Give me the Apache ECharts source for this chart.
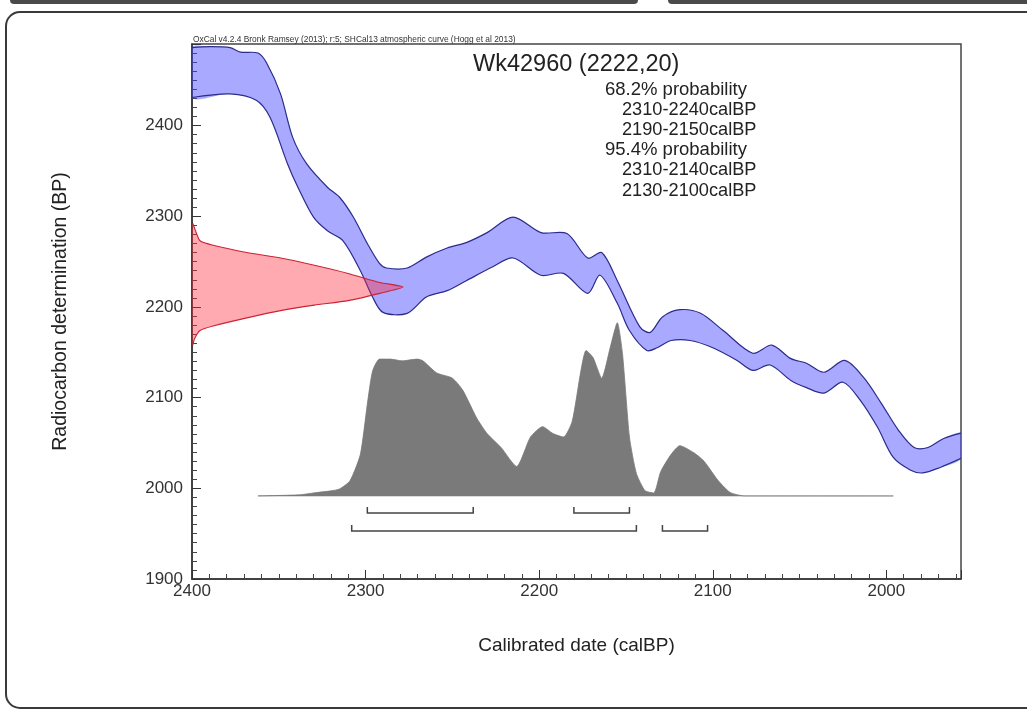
<!DOCTYPE html>
<html><head><meta charset="utf-8">
<script src="https://cdn.jsdelivr.net/npm/echarts@6/dist/echarts.min.js"></script>
<style>html,body{margin:0;padding:0;background:#fff}#c{width:1027px;height:712px}</style>
</head><body><div id="c"></div>
<script>
// ---- data ----
// calibration curve (SHCal13) band edges: [calBP, BP]
const curveUpper = [[2400,2486],[2390,2487],[2378,2486],[2372,2481],[2362,2480],[2357,2469],[2349,2435],[2342,2387],[2334,2358],[2322,2332],[2315,2321],[2307,2299],[2299,2270],[2292,2248],[2288,2243],[2276,2243],[2265,2255],[2253,2265],[2242,2271],[2230,2282],[2215,2299],[2199,2282],[2184,2281],[2172,2254],[2164,2260],[2155,2229],[2142,2178],[2136,2172],[2129,2189],[2119,2197],[2107,2193],[2094,2174],[2077,2149],[2066,2158],[2055,2143],[2046,2138],[2036,2128],[2024,2141],[2013,2122],[2003,2094],[1993,2064],[1984,2045],[1976,2045],[1967,2055],[1957,2061]];
const curveLower = [[2400,2431],[2378,2435],[2363,2428],[2355,2409],[2345,2358],[2339,2332],[2330,2299],[2322,2284],[2313,2273],[2303,2240],[2296,2211],[2290,2194],[2276,2193],[2265,2211],[2253,2218],[2242,2229],[2227,2244],[2215,2254],[2199,2235],[2186,2237],[2172,2215],[2165,2235],[2155,2204],[2148,2174],[2138,2152],[2132,2155],[2124,2163],[2113,2163],[2100,2155],[2086,2141],[2077,2130],[2067,2136],[2055,2119],[2046,2111],[2036,2105],[2025,2117],[2015,2097],[2005,2067],[1996,2034],[1986,2020],[1979,2017],[1969,2023],[1957,2033]];
// radiocarbon likelihood (relative, peak = 100) against BP
const likelihoodBP   = [2292,2285,2273,2268,2260,2254,2246,2237,2227,2222,2215,2207,2202,2196,2188,2179,2174,2165,2158];
const likelihoodProb = [0.4,1.5,3.8,10,26,42,58,74,89,100,89,74,58,42,26,10,3.8,1.2,0.4];
// calibrated probability (relative, peak = 100) against calBP
const posteriorCal  = [2362,2338,2330,2320,2315,2309,2303,2299,2296,2292,2286,2279,2270,2267,2259,2250,2244,2236,2230,2222,2213,2205,2198,2192,2186,2181,2176,2173,2169,2164,2159,2155,2152,2148,2144,2139,2134,2130,2124,2119,2111,2105,2097,2090,2082,1996];
const posteriorProb = [0,0.6,1.7,2.9,4,8.7,24,53,72,79,79,78,79,78,71,68,61,45,36,28,17,34,40,36,34,43,72,84,80,68,86,100,82,34,13,3,1.7,14,24,29,25,20,9,2,0,0];
// highest probability ranges (calBP)
const ranges68 = [[2299,2238],[2180,2148]];
const ranges95 = [[2308,2144],[2129,2103]];
// texts
const headerText = 'OxCal v4.2.4 Bronk Ramsey (2013); r:5; SHCal13 atmospheric curve (Hogg et al 2013)';
const sampleTitle = 'Wk42960 (2222,20)';
const probHeads = ['68.2% probability','95.4% probability'];
const probRanges68 = ['2310-2240calBP','2190-2150calBP'];
const probRanges95 = ['2310-2140calBP','2130-2100calBP'];
const xTitle = 'Calibrated date (calBP)';
const yTitle = 'Radiocarbon determination (BP)';

// ---- chart ----
const FONT = 'Liberation Sans, Arial, sans-serif';
const chart = echarts.init(document.getElementById('c'), null, {renderer:'canvas'});
const hundreds = v => (Math.round(v) % 100 === 0 ? String(v) : '');

const textEl = (x, y, t, size) => ({type:'text', x, y, style:{text:t, fontFamily:FONT, fontSize:size, fill:'#222', verticalAlign:'middle', align:'left'}, z:10});

const graphics = [
  {type:'rect', shape:{x:6, y:12, width:1040, height:696, r:14}, style:{fill:'none', stroke:'#3a3a3a', lineWidth:2}, z:-1},
  {type:'rect', shape:{x:10, y:-6, width:628, height:10, r:4}, style:{fill:'#4a4a4a'}, z:-1},
  {type:'rect', shape:{x:668, y:-6, width:380, height:10, r:4}, style:{fill:'#4a4a4a'}, z:-1},
  {type:'text', x:193, y:40, style:{text:headerText, fontFamily:FONT, fontSize:8.4, fill:'#333', verticalAlign:'middle'}, z:10},
  textEl(473, 65, sampleTitle, 23.5),
  textEl(605, 90, probHeads[0], 18.5),
  textEl(622, 110, probRanges68[0], 18.2),
  textEl(622, 130, probRanges68[1], 18.2),
  textEl(605, 150, probHeads[1], 18.5),
  textEl(622, 170, probRanges95[0], 18.2),
  textEl(622, 190.5, probRanges95[1], 18.2)
];

const SM = 0.3;
const option = {
  backgroundColor:'#fff',
  animation:false,
  textStyle:{fontFamily:FONT},
  grid:{left:192, right:66, top:44, bottom:133, show:true, borderColor:'#444', borderWidth:1.5, containLabel:false, outerBoundsMode:'none'},
  xAxis:[
    {type:'value', min:1957, max:2400, inverse:true, minInterval:100, maxInterval:100, position:'bottom',
     name:xTitle, nameLocation:'middle', nameGap:57, nameTextStyle:{fontSize:19, color:'#222', fontFamily:FONT},
     axisLine:{show:true, onZero:false, lineStyle:{color:'#333', width:1.5}},
     axisTick:{show:true, inside:true, length:9, lineStyle:{color:'#333', width:1}},
     minorTick:{show:true, splitNumber:10, length:5, lineStyle:{color:'#444', width:1}},
     splitLine:{show:false}, minorSplitLine:{show:false},
     axisLabel:{formatter:hundreds, fontSize:17, color:'#333', margin:4, fontFamily:FONT, showMinLabel:true, showMaxLabel:true}},
    {type:'value', min:0, max:364.5, show:false, position:'top'}
  ],
  yAxis:[
    {type:'value', min:1900, max:2490, minInterval:100, maxInterval:100,
     name:yTitle, nameLocation:'middle', nameGap:121, nameTextStyle:{fontSize:19.5, color:'#222', fontFamily:FONT},
     axisLine:{show:true, onZero:false, lineStyle:{color:'#333', width:1.5}},
     axisTick:{show:true, inside:true, length:9, lineStyle:{color:'#333', width:1}},
     minorTick:{show:true, splitNumber:10, length:5, lineStyle:{color:'#444', width:1}},
     splitLine:{show:false}, minorSplitLine:{show:false},
     axisLabel:{formatter:hundreds, fontSize:17, color:'#333', margin:9, fontFamily:FONT}},
    {type:'value', min:-48, max:261, show:false}
  ],
  graphic:graphics,
  series:[
    { // calibration curve band
      type:'custom', name:'curve', xAxisIndex:0, yAxisIndex:0, clip:true, z:2, silent:true,
      data:[[2200,2200]],
      renderItem:(params, api) => {
        const up = curveUpper.map(p => api.coord(p));
        const lo = curveLower.map(p => api.coord(p));
        return {type:'group', children:[
          {type:'polygon', shape:{points:up.concat(lo.slice().reverse()), smooth:SM}, style:{fill:'rgba(64,64,255,0.45)', stroke:null}},
          {type:'polyline', shape:{points:up, smooth:SM}, style:{fill:null, stroke:'#2b2b8c', lineWidth:1.2}},
          {type:'polyline', shape:{points:lo, smooth:SM}, style:{fill:null, stroke:'#2b2b8c', lineWidth:1.2}}
        ]};
      }
    },
    { // posterior baseline
      type:'line', name:'baseline', xAxisIndex:0, yAxisIndex:1, z:3, silent:true, symbol:'none',
      data:[[posteriorCal[0],0],[posteriorCal[posteriorCal.length-1],0]],
      lineStyle:{color:'#cfcfcf', width:1.5}
    },
    { // calibrated distribution
      type:'line', name:'posterior', xAxisIndex:0, yAxisIndex:1, z:4, silent:true, symbol:'none', smooth:0.2,
      data:posteriorCal.map((c,i)=>[c, posteriorProb[i]]),
      lineStyle:{width:0.8, color:'#777'},
      areaStyle:{color:'#7a7a7a', opacity:1, origin:0}
    },
    { // radiocarbon likelihood
      type:'custom', name:'likelihood', xAxisIndex:1, yAxisIndex:0, clip:true, z:5, silent:true,
      data:[[50,2222]],
      renderItem:(params, api) => {
        const pts = likelihoodBP.map((b,i) => api.coord([likelihoodProb[i], b]));
        const poly = [api.coord([0, likelihoodBP[0]])].concat(pts, [api.coord([0, likelihoodBP[likelihoodBP.length-1]])]);
        return {type:'group', children:[
          {type:'polygon', shape:{points:poly, smooth:0.2}, style:{fill:'rgba(255,40,60,0.4)', stroke:null}},
          {type:'polyline', shape:{points:pts, smooth:0.2}, style:{fill:null, stroke:'#cc2233', lineWidth:1.1}}
        ]};
      }
    },
    { // range brackets
      type:'custom', name:'ranges', xAxisIndex:0, yAxisIndex:1, clip:false, z:6, silent:true,
      data:ranges68.map(r=>[r[0], r[1], 0]).concat(ranges95.map(r=>[r[0], r[1], 1])),
      renderItem:(params, api) => {
        const a = api.coord([api.value(0), 0]);
        const b = api.coord([api.value(1), 0]);
        const y = a[1] + (api.value(2) === 0 ? 17 : 35);
        return {type:'polyline', shape:{points:[[a[0], y-6],[a[0], y],[b[0], y],[b[0], y-6]]}, style:{fill:null, stroke:'#444', lineWidth:1.5}};
      }
    }
  ]
};
chart.setOption(option);
</script></body></html>
